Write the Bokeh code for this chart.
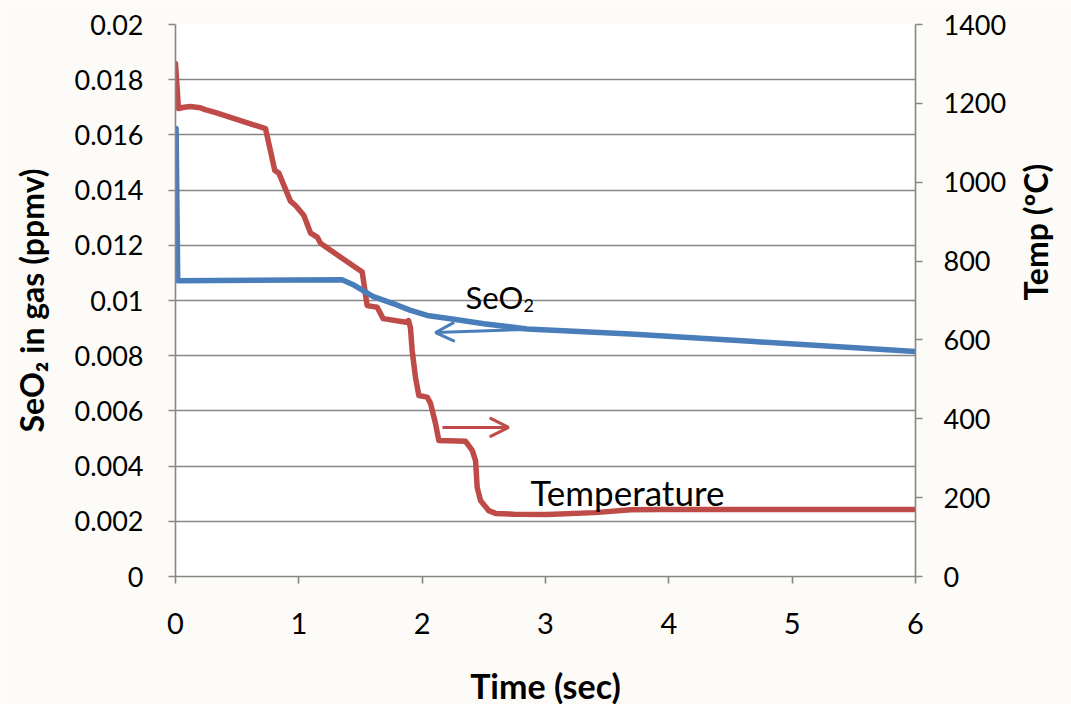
import math
from bokeh.plotting import figure
from bokeh.models import Range1d, LinearAxis, FixedTicker, Arrow, OpenHead
from bokeh.core.properties import value
from bokeh.embed import file_html
from bokeh.resources import INLINE

# ---- data ----
time_temp = [0.0, 0.024, 0.07, 0.12, 0.2, 0.24, 0.32, 0.73, 0.805, 0.838, 0.932, 0.973,
             1.04, 1.095, 1.149, 1.176, 1.514, 1.554, 1.635, 1.684, 1.87, 1.889, 1.905,
             1.919, 1.946, 1.973, 2.041, 2.068, 2.108, 2.135, 2.351, 2.406, 2.433,
             2.446, 2.473, 2.54, 2.595, 2.743, 3.01, 3.4, 3.69, 3.93, 6.0]
temp_c = [1301, 1187, 1190, 1192, 1189, 1184, 1177, 1136, 1030, 1023, 952, 941,
          916, 871, 861, 845, 772, 687, 683, 654, 645, 649, 631,
          573, 505, 459, 455, 439, 388, 345, 343, 320, 294,
          226, 193, 167, 160, 158, 157, 162, 169, 170, 170]

time_seo2 = [0.005, 0.018, 1.35, 1.45, 1.6, 1.77, 1.9, 2.04, 2.23, 2.5, 2.85, 3.69, 4.66, 6.0]
seo2_ppmv = [0.01623, 0.01072, 0.01075, 0.01055, 0.01015, 0.00988, 0.00965, 0.00946,
             0.00934, 0.00916, 0.00897, 0.00879, 0.00852, 0.00815]

x_ticks = [0, 1, 2, 3, 4, 5, 6]
left_ticks = [0, 0.002, 0.004, 0.006, 0.008, 0.01, 0.012, 0.014, 0.016, 0.018, 0.02]
left_labels = ["0", "0.002", "0.004", "0.006", "0.008", "0.01", "0.012", "0.014", "0.016", "0.018", "0.02"]
right_ticks = [0, 200, 400, 600, 800, 1000, 1200, 1400]

BLUE = "#4a7ebb"
RED = "#be4b48"
GRAY = "#868686"
BG = "#fdfbf8"
FONT = "Lato"

p = figure(frame_width=740, frame_height=552,
           min_border_left=175, min_border_right=148, min_border_top=24, min_border_bottom=120,
           x_range=Range1d(0, 6), y_range=Range1d(0, 0.02),
           output_backend="svg", toolbar_location=None)
p.extra_y_ranges = {"temp": Range1d(0, 1400)}
p.background_fill_color = "white"
p.border_fill_color = BG
p.outline_line_color = None

# grid
p.xgrid.grid_line_color = None
p.ygrid.grid_line_color = GRAY
p.ygrid.grid_line_width = 1.6
p.ygrid.ticker = FixedTicker(ticks=left_ticks)

# axes
for ax in (p.xaxis[0], p.yaxis[0]):
    ax.axis_line_color = GRAY
    ax.axis_line_width = 1.6
    ax.major_tick_line_color = GRAY
    ax.major_tick_line_width = 1.6
    ax.major_tick_out = 7
    ax.major_tick_in = 0
    ax.minor_tick_line_color = None
    ax.major_label_text_font = FONT
    ax.major_label_text_color = "black"
    ax.axis_label_text_font = FONT
    ax.axis_label_text_font_style = "bold"
    ax.axis_label_text_color = "black"

p.xaxis.ticker = FixedTicker(ticks=x_ticks)
p.xaxis.major_label_text_font_size = "29px"
p.xaxis.major_label_standoff = 29
p.xaxis.axis_label = "Time (sec)"
p.xaxis.axis_label_text_font_size = "34px"
p.xaxis.axis_label_standoff = 28

p.yaxis.ticker = FixedTicker(ticks=left_ticks)
p.yaxis.major_label_overrides = {t: l for t, l in zip(left_ticks, left_labels)}
p.yaxis.major_label_text_font_size = "27px"
p.yaxis.major_label_standoff = 25
p.yaxis.axis_label = "SeO\u2082 in gas (ppmv)"
p.yaxis.axis_label_text_font_size = "32px"
p.yaxis.axis_label_standoff = 20

right = LinearAxis(y_range_name="temp", ticker=FixedTicker(ticks=right_ticks))
right.axis_line_color = GRAY
right.axis_line_width = 1.6
right.major_tick_line_color = GRAY
right.major_tick_line_width = 1.6
right.major_tick_out = 7
right.major_tick_in = 0
right.minor_tick_line_color = None
right.major_label_text_font = FONT
right.major_label_text_font_size = "27px"
right.major_label_text_color = "black"
right.major_label_standoff = 21
right.axis_label = "Temp (\u00baC)"
right.axis_label_text_font = FONT
right.axis_label_text_font_style = "bold"
right.axis_label_text_font_size = "32px"
right.axis_label_text_color = "black"
right.axis_label_standoff = 26
try:
    right.axis_label_orientation = math.pi / 2
except Exception:
    pass
p.add_layout(right, "right")

# series
p.line(time_temp, temp_c, y_range_name="temp", line_color=RED, line_width=5.5,
       line_join="round", line_cap="round")
p.line(time_seo2, seo2_ppmv, line_color=BLUE, line_width=5.5,
       line_join="round", line_cap="round")

# arrows
p.add_layout(Arrow(end=OpenHead(size=19, line_color=BLUE, line_width=3),
                   x_start=2.854, y_start=0.00895, x_end=2.108, y_end=0.00884,
                   line_color=BLUE, line_width=3))
p.add_layout(Arrow(end=OpenHead(size=19, line_color=RED, line_width=3),
                   x_start=2.165, y_start=378, x_end=2.701, y_end=378,
                   y_range_name="temp", line_color=RED, line_width=3))

# labels
p.text(x=[2.351], y=[0.01014], text=["SeO"], text_font=value(FONT), text_font_size="31px",
       text_baseline="alphabetic", text_align="left", text_color="black")
p.text(x=[2.822], y=[0.00983], text=["2"], text_font=value(FONT), text_font_size="18px",
       text_baseline="alphabetic", text_align="left", text_color="black")
p.text(x=[2.878], y=[0.00305], text=["Temperature"], text_font=value(FONT), text_font_size="35px",
       text_baseline="alphabetic", text_align="left", text_color="black")

html = file_html(p, INLINE)
html = html.replace("<body>", '<body style="background-color:%s;">' % BG, 1)
open("out.html", "w").write(html)
